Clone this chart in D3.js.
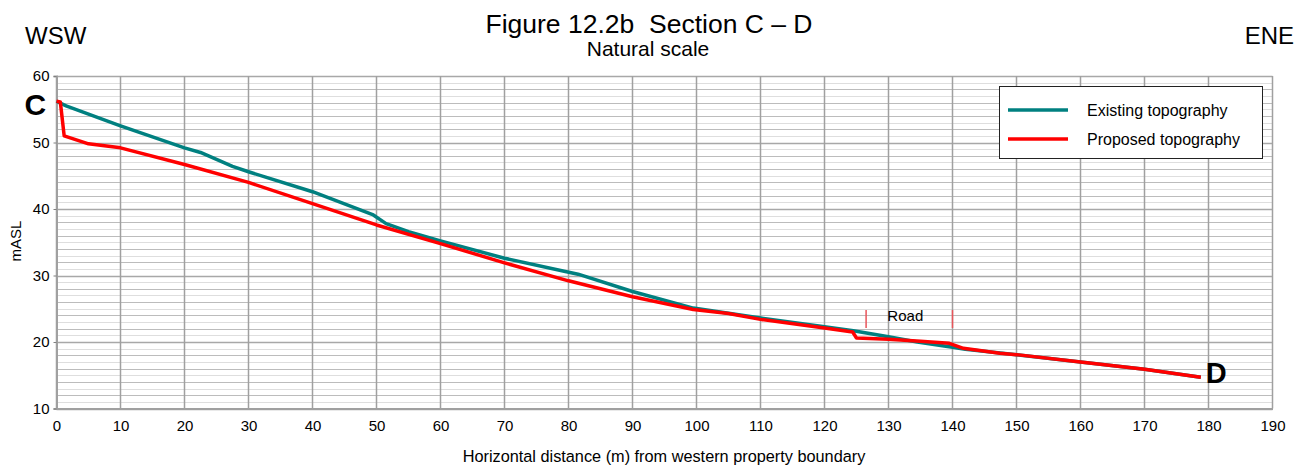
<!DOCTYPE html>
<html>
<head>
<meta charset="utf-8">
<script src="https://cdn.jsdelivr.net/npm/d3@7"></script>
<style>
  html, body { margin: 0; padding: 0; background: #fff; }
  svg { display: block; font-family: "Liberation Sans", Arial, sans-serif; }
  svg text { white-space: pre; }
</style>
</head>
<body>
<svg id="chart" width="1313" height="473"></svg>
<script>
// Section C – D: ground profile, distance (m) vs elevation (m ASL)
const existingDist = [0, 1.5, 10, 20, 22.5, 27.5, 30, 40, 49.5, 51.5, 55, 60, 70, 79.5, 81.5, 90, 99.5, 110, 120, 124.5, 130, 134.5, 140, 142, 150, 160, 170, 178.8];
const existingElev = [56.2, 55.5, 52.5, 49.2, 48.5, 46.4, 45.6, 42.6, 39.1, 37.8, 36.6, 35.2, 32.6, 30.6, 30.2, 27.6, 25.1, 23.6, 22.3, 21.7, 20.8, 20.0, 19.2, 18.9, 18.1, 17.0, 15.9, 14.7];

const proposedDist = [0, 0.6, 1.2, 5, 10, 20, 30, 40, 50, 60, 70, 80, 90, 99.5, 105, 110, 120, 124.4, 125, 130, 135, 139.5, 141.7, 147.4, 150, 160, 170, 178.8];
const proposedElev = [56.2, 56.1, 51.0, 49.8, 49.2, 46.7, 44.0, 40.8, 37.6, 34.8, 31.9, 29.2, 26.8, 24.9, 24.3, 23.4, 22.1, 21.5, 20.6, 20.4, 20.1, 19.8, 19.05, 18.3, 18.1, 17.0, 15.9, 14.7];

const seriesNames = ["Existing topography", "Proposed topography"];
const seriesColors = ["#008080", "#ff0000"];

const xTicks = [0, 10, 20, 30, 40, 50, 60, 70, 80, 90, 100, 110, 120, 130, 140, 150, 160, 170, 180, 190];
const yTicks = [10, 20, 30, 40, 50, 60];

// Road corridor markers (distance) and their vertical extent (elevation)
const roadBounds = [126.5, 140];
const roadMarkElev = [22.1, 24.8];

const svg = d3.select("#chart");
const FONT = '"Liberation Sans", Arial, sans-serif';

const x = d3.scaleLinear().domain([0, 190]).range([56.5, 1272.5]);
const y = d3.scaleLinear().domain([10, 60]).range([408.5, 76]);

// Horizontal grid every metre, heavier every second metre
const gridLevels = d3.range(10, 61, 1);
svg.append("g").selectAll("line").data(gridLevels).join("line")
  .attr("x1", x(0)).attr("x2", x(190))
  .attr("y1", d => Math.round(y(d)) + 0.5).attr("y2", d => Math.round(y(d)) + 0.5)
  .attr("stroke", d => d % 10 === 0 ? "#a8a8a8" : (d % 2 === 0 ? "#bcbcbc" : "#dedede"))
  .attr("stroke-width", d => d % 10 === 0 ? 1.5 : 1.2);

// Vertical grid
svg.append("g").selectAll("line").data(xTicks).join("line")
  .attr("x1", d => x(d)).attr("x2", d => x(d))
  .attr("y1", y(60)).attr("y2", y(10))
  .attr("stroke", "#a0a0a0").attr("stroke-width", 1.5);

// Axes
const xAxis = svg.append("g").attr("transform", `translate(0,${y(10)})`)
  .call(d3.axisBottom(x).tickValues(xTicks).tickSize(0).tickPadding(12).tickFormat(d3.format("d")));
xAxis.select(".domain").attr("stroke", "#a0a0a0").attr("stroke-width", 2);
xAxis.selectAll("text").attr("font-family", FONT).attr("font-size", 15).attr("fill", "#000");

const yAxis = svg.append("g").attr("transform", `translate(${x(0)},0)`)
  .call(d3.axisLeft(y).tickValues(yTicks).tickSize(3).tickPadding(4).tickFormat(d3.format("d")));
yAxis.select(".domain").attr("stroke", "#a0a0a0").attr("stroke-width", 2);
yAxis.selectAll(".tick line").attr("stroke", "#808080");
yAxis.selectAll("text").attr("font-family", FONT).attr("font-size", 15).attr("fill", "#000");

// Road markers and label
svg.append("g").selectAll("line").data(roadBounds).join("line")
  .attr("x1", d => x(d)).attr("x2", d => x(d))
  .attr("y1", y(roadMarkElev[0])).attr("y2", y(roadMarkElev[1]))
  .attr("stroke", "#e8545a").attr("stroke-width", 1.5);
svg.append("text")
  .attr("x", x((roadBounds[0] + roadBounds[1]) / 2) - 4).attr("y", y(23.1))
  .attr("text-anchor", "middle").attr("font-size", 15).attr("fill", "#000")
  .text("Road");

// Profiles
const line = d3.line().x(d => x(d[0])).y(d => y(d[1]));
const existing = existingDist.map((d, i) => [d, existingElev[i]]);
const proposed = proposedDist.map((d, i) => [d, proposedElev[i]]);

svg.append("path").datum(existing).attr("d", line)
  .attr("fill", "none").attr("stroke", seriesColors[0]).attr("stroke-width", 3.5)
  .attr("stroke-linejoin", "round");
svg.append("path").datum(proposed).attr("d", line)
  .attr("fill", "none").attr("stroke", seriesColors[1]).attr("stroke-width", 3.5)
  .attr("stroke-linejoin", "round");

// Section end labels
svg.append("text")
  .attr("x", x(existing[0][0]) - 32).attr("y", y(existing[0][1]) + 14)
  .attr("font-size", 30).attr("font-weight", "bold").text("C");
const last = proposed[proposed.length - 1];
svg.append("text")
  .attr("x", x(last[0]) + 5).attr("y", y(last[1]) + 6)
  .attr("font-size", 29).attr("font-weight", "bold").text("D");

// Titles
svg.append("text").attr("x", 649).attr("y", 33).attr("text-anchor", "middle")
  .attr("font-size", 26.5).text("Figure 12.2b  Section C \u2013 D");
svg.append("text").attr("x", 648).attr("y", 56).attr("text-anchor", "middle")
  .attr("font-size", 21).text("Natural scale");
svg.append("text").attr("x", 25).attr("y", 44).attr("font-size", 24).text("WSW");
svg.append("text").attr("x", 1294).attr("y", 44).attr("text-anchor", "end").attr("font-size", 24).text("ENE");

// Axis titles
svg.append("text").attr("transform", "translate(21,241) rotate(-90)")
  .attr("text-anchor", "middle").attr("font-size", 15).text("mASL");
svg.append("text").attr("x", 664).attr("y", 462).attr("text-anchor", "middle")
  .attr("font-size", 16.3).text("Horizontal distance (m) from western property boundary");

// Legend
const lg = svg.append("g");
lg.append("rect").attr("x", 999.5).attr("y", 86.5).attr("width", 263).attr("height", 72)
  .attr("fill", "#fff").attr("stroke", "#222").attr("stroke-width", 1);
seriesNames.forEach((name, i) => {
  const cy = 110 + i * 29;
  lg.append("line").attr("x1", 1008).attr("x2", 1068).attr("y1", cy).attr("y2", cy)
    .attr("stroke", seriesColors[i]).attr("stroke-width", 3.5);
  lg.append("text").attr("x", 1087).attr("y", cy + 5.5).attr("font-size", 16).text(name);
});
</script>
</body>
</html>
